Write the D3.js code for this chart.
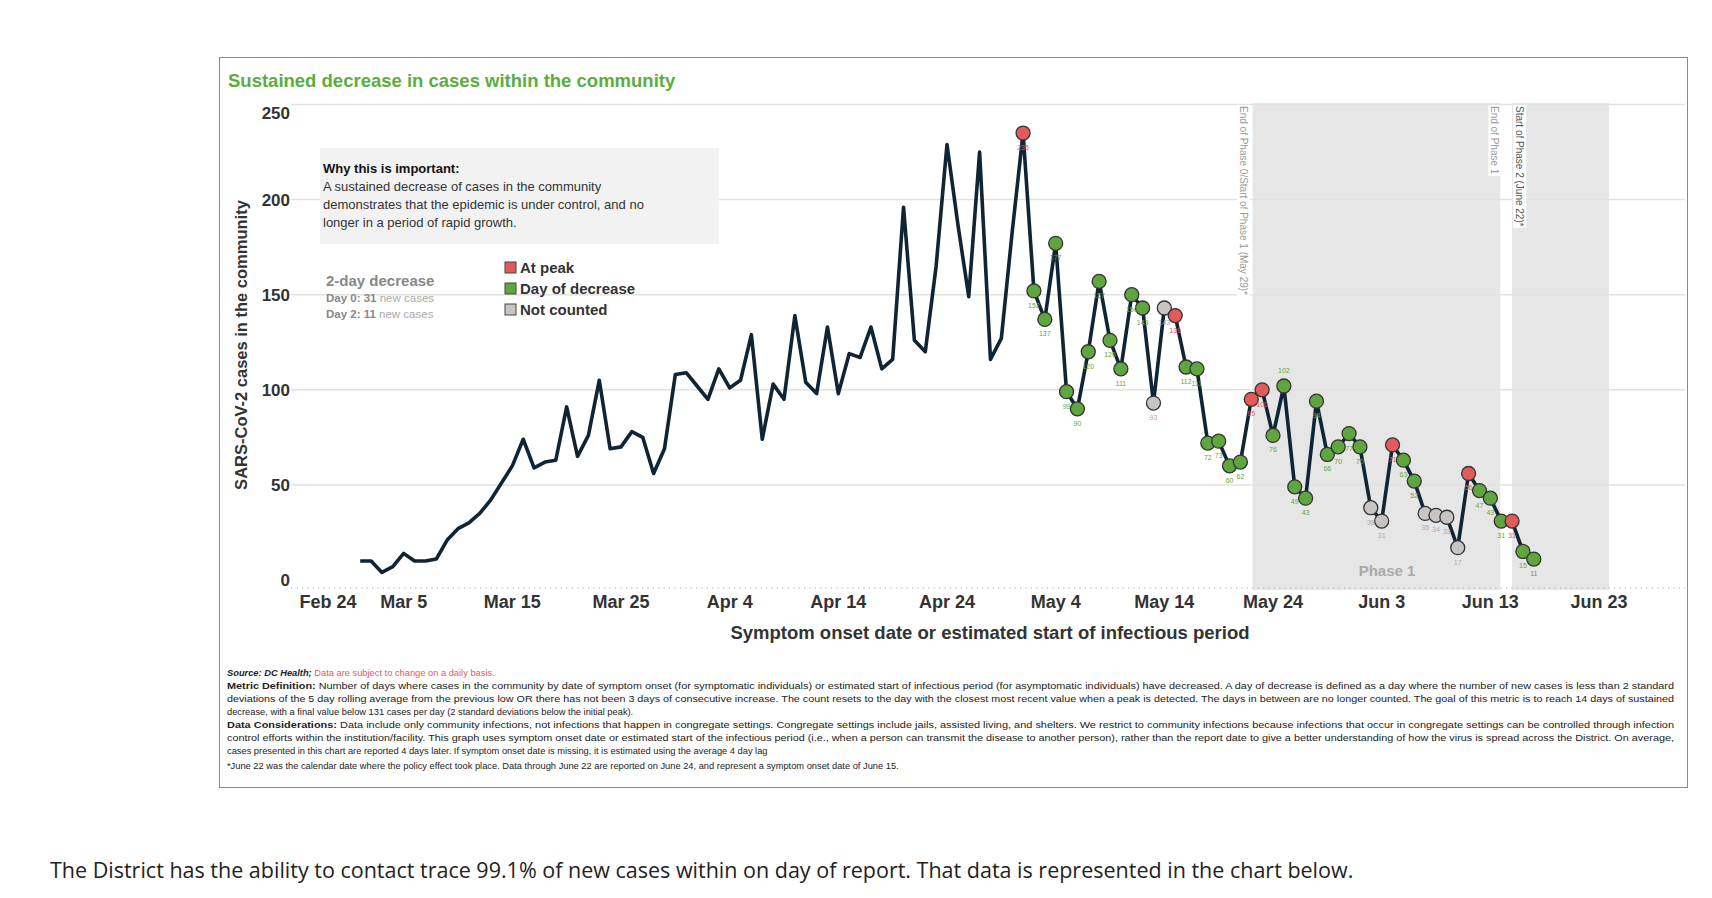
<!DOCTYPE html>
<html>
<head>
<meta charset="utf-8">
<script src="https://cdn.jsdelivr.net/npm/d3@7"></script>
<style>
  body { margin: 0; background: #fff; }
  svg text { font-family: "Liberation Sans", Arial, sans-serif; }
</style>
</head>
<body>
<svg id="chart" width="1712" height="898"></svg>
<script>
const startDate = new Date(2020, 2, 1);
const cases = [
  10, 10, 4, 7, 14, 10, 10, 11, 21, 27, 30, 35, 42, 51, 60, 74, 59, 62, 63, 91, 65, 76, 105, 69, 70, 78, 75, 56, 69,
  108, 109, 102, 95, 111, 101, 105, 129, 74, 103, 95, 139, 104, 98, 133, 98, 119, 117, 133, 111, 116, 196, 126, 120, 165,
  229, 187, 149, 225, 116, 127, 183, 235,
  152, 137, 177, 99, 90, 120, 157, 126, 111, 150, 143, 93, 143, 139, 112, 111,
  72, 73, 60, 62, 95, 100, 76, 102, 49, 43, 94, 66, 70, 77, 70, 38, 31, 71, 63, 52, 35, 34, 33, 17, 56, 47, 43, 31, 31, 15, 11
];
// status of the marked points, from the peak to the end (P = at peak, D = day of decrease, N = not counted)
const status = [
  "P", "D", "D", "D", "D", "D", "D", "D", "D", "D", "D", "D", "N", "N", "P", "D", "D",
  "D", "D", "D", "D", "P", "P", "D", "D", "D", "D", "D", "D", "D", "D", "D", "N", "N", "P", "D", "D",
  "N", "N", "N", "N", "P", "D", "D", "D", "P", "D", "D"
];
const yTicks = [0, 50, 100, 150, 200, 250];
const phases = [
  { from: new Date(2020, 4, 22, 3), to: new Date(2020, 5, 13, 22) },
  { from: new Date(2020, 5, 15, 0), to: new Date(2020, 5, 23, 22) }
];
const phaseLabels = [
  { date: new Date(2020, 4, 21, 7), text: "End of Phase 0/Start of Phase 1 (May 29)*", color: "#999" },
  { date: new Date(2020, 5, 13, 10), text: "End of Phase 1", color: "#999" },
  { date: new Date(2020, 5, 15, 17), text: "Start of Phase 2 (June 22)*", color: "#555" }
];
const legendItems = [
  { key: "P", label: "At peak" },
  { key: "D", label: "Day of decrease" },
  { key: "N", label: "Not counted" }
];
const footnotes = [
  "Metric Definition: Number of days where cases in the community by date of symptom onset (for symptomatic individuals) or estimated start of infectious period (for asymptomatic individuals) have decreased. A day of decrease is defined as a day where the number of new cases is less than 2 standard",
  "deviations of the 5 day rolling average from the previous low OR there has not been 3 days of consecutive increase. The count resets to the day with the closest most recent value when a peak is detected. The days in between are no longer counted. The goal of this metric is to reach 14 days of sustained",
  "decrease, with a final value below 131 cases per day (2 standard deviations below the initial peak).",
  "Data Considerations: Data include only community infections, not infections that happen in congregate settings. Congregate settings include jails, assisted living, and shelters. We restrict to community infections because infections that occur in congregate settings can be controlled through infection",
  "control efforts within the institution/facility. This graph uses symptom onset date or estimated start of the infectious period (i.e., when a person can transmit the disease to another person), rather than the report date to give a better understanding of how the virus is spread across the District. On average,",
  "cases presented in this chart are reported 4 days later. If symptom onset date is missing, it is estimated using the average 4 day lag",
  "*June 22 was the calendar date where the policy effect took place. Data through June 22 are reported on June 24, and represent a symptom onset date of June 15."
];

const fill = { P: "#e25b5b", D: "#5fa63f", N: "#c9c4c4" };
const labelFill = { P: "#e25b5b", D: "#5fa63f", N: "#b0aaaa" };

const data = cases.map((v, i) => ({ date: d3.timeDay.offset(startDate, i), value: v }));
const firstMarked = data.length - status.length;
data.forEach((d, i) => { d.status = i >= firstMarked ? status[i - firstMarked] : null; });

const svg = d3.select("#chart");

const x = d3.scaleTime().domain([new Date(2020, 1, 24), new Date(2020, 5, 23)]).range([295, 1599]);
const y = d3.scaleLinear().domain([0, 250]).range([580, 104.5]);

// frame
svg.append("rect").attr("x", 219.5).attr("y", 57.5).attr("width", 1468).attr("height", 730)
  .attr("fill", "none").attr("stroke", "#8a8a8a");

svg.append("text").attr("x", 228).attr("y", 87).attr("fill", "#5aae3e")
  .style("font-size", "18.5px").style("font-weight", "bold")
  .text("Sustained decrease in cases within the community");

// phase shading
svg.selectAll(".phase").data(phases).enter().append("rect")
  .attr("x", d => x(d.from)).attr("width", d => x(d.to) - x(d.from))
  .attr("y", 103).attr("height", 487).attr("fill", "#e6e6e6");

// gridlines
svg.append("g").selectAll("line").data(yTicks).enter().append("line")
  .attr("x1", 291).attr("x2", 1685).attr("y1", d => y(d)).attr("y2", d => y(d))
  .attr("stroke", d => d === 0 ? "none" : "#e2e2e2").attr("stroke-width", 1.5);

// y axis labels
svg.append("g").selectAll("text").data(yTicks).enter().append("text")
  .attr("x", 290).attr("y", d => y(d) + (d === 250 ? 8 : 0)).attr("dy", "0.36em").attr("text-anchor", "end")
  .attr("fill", "#333").style("font-size", "17px").style("font-weight", "bold")
  .text(d => d);

svg.append("text").attr("transform", "translate(247,345) rotate(-90)").attr("text-anchor", "middle")
  .attr("fill", "#333").style("font-size", "16.5px").style("font-weight", "bold")
  .text("SARS-CoV-2 cases in the community");

// x axis: dotted base + labels
svg.append("line").attr("x1", 291).attr("x2", 1685).attr("y1", 588).attr("y2", 588)
  .attr("stroke", "#aaa").attr("stroke-width", 1.2).attr("stroke-dasharray", "1.2,4.2");
const xTicks = d3.timeDay.range(new Date(2020, 1, 24), new Date(2020, 5, 24), 10);
svg.append("g").selectAll("text").data(xTicks).enter().append("text")
  .attr("x", (d, i) => i === 0 ? 328 : x(d)).attr("y", 608).attr("text-anchor", "middle")
  .attr("fill", "#333").style("font-size", "18px").style("font-weight", "bold")
  .text(d3.timeFormat("%b %-d"));
svg.append("text").attr("x", 990).attr("y", 639).attr("text-anchor", "middle")
  .attr("fill", "#333").style("font-size", "18.5px").style("font-weight", "bold")
  .text("Symptom onset date or estimated start of infectious period");

// phase labels
phaseLabels.forEach(p => {
  const g = svg.append("g").attr("transform", `translate(${x(p.date)},106) rotate(90)`);
  const t = g.append("text").attr("x", 0).attr("y", 0).attr("dy", "0.35em")
    .attr("fill", p.color).style("font-size", "10px").text(p.text);
  const bb = t.node().getBBox();
  g.insert("rect", "text").attr("x", bb.x - 1).attr("y", bb.y - 1)
    .attr("width", bb.width + 2).attr("height", bb.height + 2).attr("fill", "#fff");
});
svg.append("text").attr("x", 1387).attr("y", 576).attr("text-anchor", "middle")
  .attr("fill", "#aaa").style("font-size", "15px").style("font-weight", "bold").text("Phase 1");

// info box
svg.append("rect").attr("x", 320).attr("y", 148).attr("width", 399).attr("height", 96).attr("fill", "#f2f2f2");
svg.append("text").attr("x", 323).attr("y", 173).attr("fill", "#111")
  .style("font-size", "13px").style("font-weight", "bold").text("Why this is important:");
["A sustained decrease of cases in the community",
 "demonstrates that the epidemic is under control, and no",
 "longer in a period of rapid growth."].forEach((s, i) => {
  svg.append("text").attr("x", 323).attr("y", 191 + i * 18).attr("fill", "#333")
    .style("font-size", "13px").text(s);
});

svg.append("text").attr("x", 326).attr("y", 286).attr("fill", "#888")
  .style("font-size", "15px").style("font-weight", "bold").text("2-day decrease");
[["Day 0: 31", " new cases"], ["Day 2: 11", " new cases"]].forEach((s, i) => {
  const t = svg.append("text").attr("x", 326).attr("y", 302 + i * 16).style("font-size", "11.5px");
  t.append("tspan").attr("fill", "#888").style("font-weight", "bold").text(s[0]);
  t.append("tspan").attr("fill", "#aaa").text(s[1]);
});

const legend = svg.append("g").selectAll("g").data(legendItems).enter().append("g")
  .attr("transform", (d, i) => `translate(505,${262 + i * 21})`);
legend.append("rect").attr("width", 11).attr("height", 11).attr("fill", d => fill[d.key])
  .attr("stroke", "#444").attr("stroke-width", 1);
legend.append("text").attr("x", 15).attr("y", 11).attr("fill", "#333")
  .style("font-size", "15px").style("font-weight", "bold").text(d => d.label);

// line
svg.append("path").datum(data)
  .attr("fill", "none").attr("stroke", "#0f2535").attr("stroke-width", 3.6).attr("stroke-linejoin", "round")
  .attr("d", d3.line().x(d => x(d.date)).y(d => y(d.value)));

const marked = data.filter(d => d.status);
svg.append("g").selectAll("circle").data(marked).enter().append("circle")
  .attr("cx", d => x(d.date)).attr("cy", d => y(d.value)).attr("r", 7)
  .attr("fill", d => fill[d.status]).attr("stroke", "#333").attr("stroke-width", 1.3);
svg.append("g").selectAll("text").data(marked).enter().append("text")
  .attr("x", d => x(d.date)).attr("y", d => y(d.value) + (d.value === 102 ? -13 : 17))
  .attr("text-anchor", "middle").attr("fill", d => labelFill[d.status])
  .style("font-size", "7px").text(d => d.value);

// footnotes
const src = svg.append("text").attr("x", 227).attr("y", 676).style("font-size", "9.3px");
src.append("tspan").attr("fill", "#222").style("font-weight", "bold").style("font-style", "italic").text("Source: DC Health; ");
src.append("tspan").attr("fill", "#e25b5b").text("Data are subject to change on a daily basis.");
footnotes.forEach((s, i) => {
  const t = svg.append("text").attr("x", 227).attr("y", 689 + i * 13 + (i === 6 ? 2 : 0))
    .attr("fill", "#222").style("font-size", "9.3px");
  const m = s.match(/^(Metric Definition:|Data Considerations:)(.*)$/);
  if (m) {
    t.append("tspan").style("font-weight", "bold").text(m[1]);
    t.append("tspan").text(m[2]);
  } else {
    t.text(s);
  }
  if ([0, 1, 3, 4].includes(i)) t.attr("textLength", 1447).attr("lengthAdjust", "spacingAndGlyphs");
});

svg.append("text").attr("x", 50).attr("y", 878).attr("fill", "#222")
  .style("font-family", "'Open Sans', sans-serif").style("font-size", "21.5px")
  .text("The District has the ability to contact trace 99.1% of new cases within on day of report. That data is represented in the chart below.");
</script>
</body>
</html>
